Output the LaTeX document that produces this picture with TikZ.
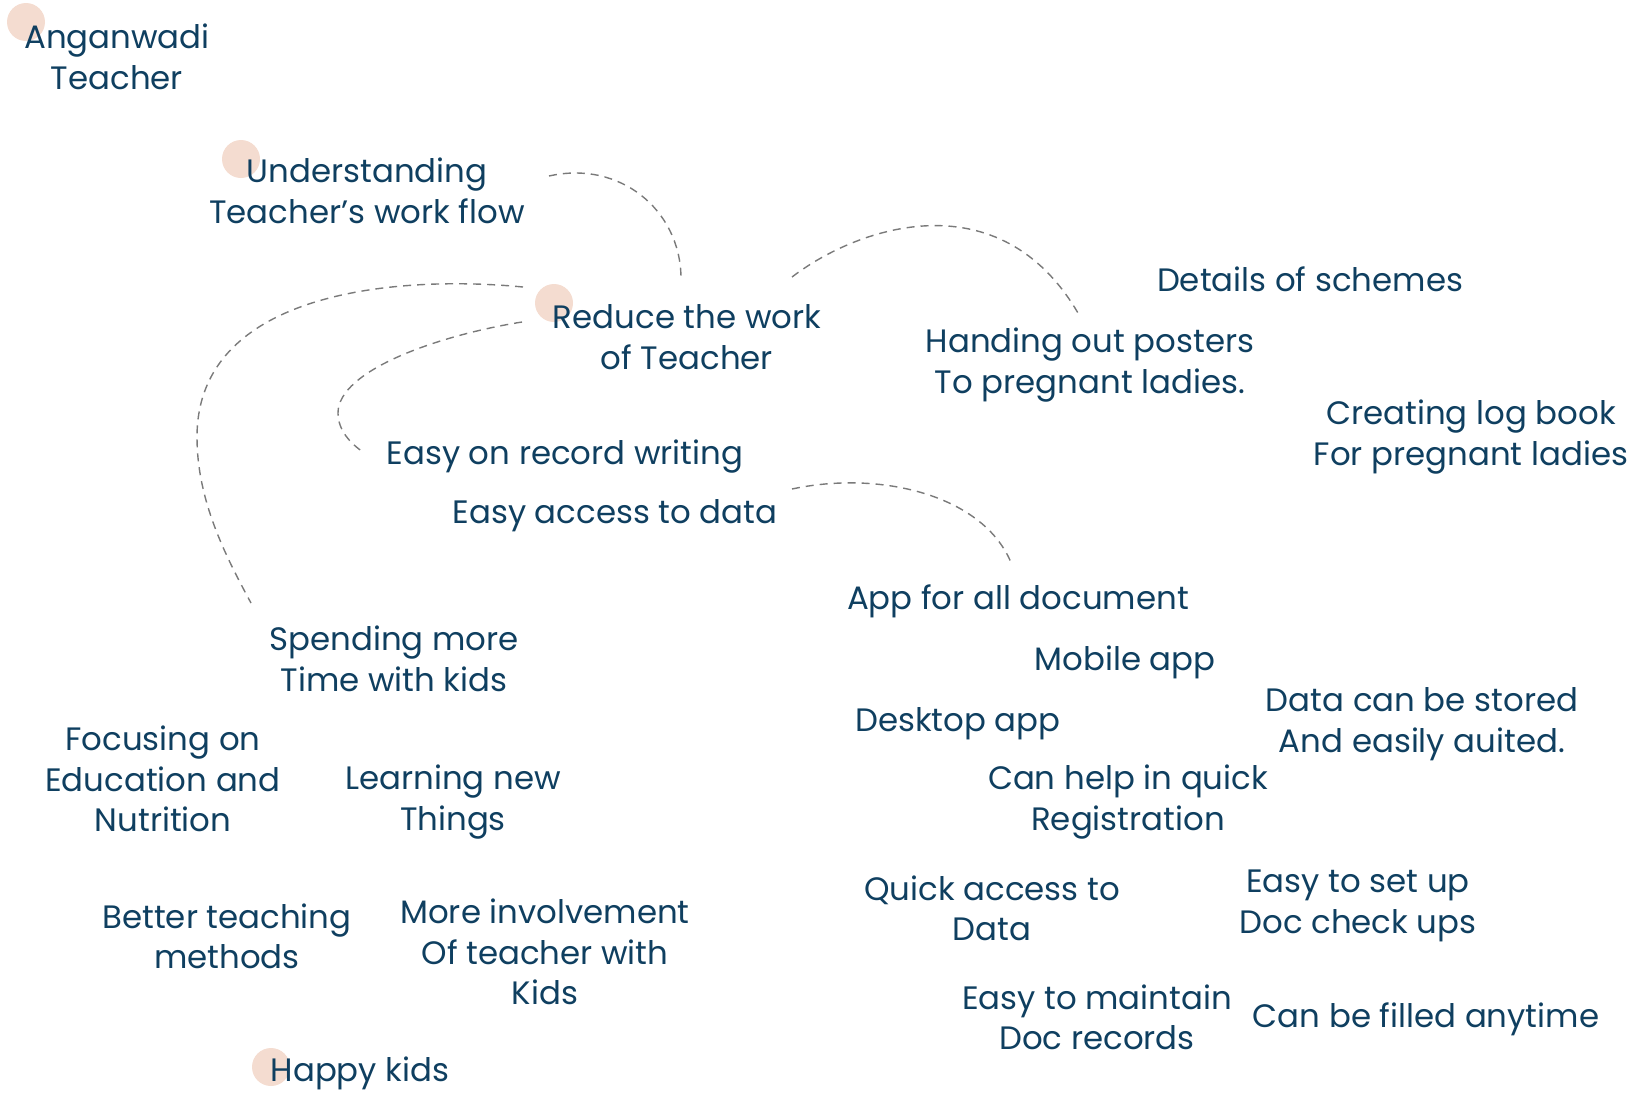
\documentclass[tikz,border=0pt]{standalone}
\usepackage{fontspec}
\setmainfont{Poppins}
\usepackage{tikz}
\definecolor{inkblue}{HTML}{0F3F60}
\definecolor{peach}{HTML}{F4DCD0}
\definecolor{linegray}{HTML}{7A7A7A}
\tikzset{
	idea/.style={align=center, text=inkblue, font=\fontsize{16.2}{20.2}\selectfont, inner sep=0pt},
	dot/.style={fill=peach, draw=none},
	link/.style={draw=linegray, line width=0.7pt, dash pattern=on 4pt off 3pt}
}

\begin{document}
\begin{tikzpicture}[x=0.5pt, y=-0.5pt]
	\useasboundingbox (0,0) rectangle (1638,1094);
	% dots
	\filldraw[dot] (26,22) circle (19);
	\filldraw[dot] (241,159) circle (19);
	\filldraw[dot] (554,303) circle (19);
	\filldraw[dot] (271,1067) circle (19);
	% ideas
	\node[idea] (teacher) at (117,57) {Anganwadi\\Teacher};
	\node[idea] (flow) at (367,191) {Understanding\\Teacher’s work flow};
	\node[idea] (reduce) at (687,337) {Reduce the work\\of Teacher};
	\node[idea] (posters) at (1090,365) {Handing out posters\\To pregnant ladies.};
	\node[idea] (schemes) at (1310,279) {Details of schemes};
	\node[idea] (logbook) at (1471,437) {Creating log book\\For pregnant ladies};
	\node[idea] (record) at (565,457) {Easy on record writing};
	\node[idea] (access) at (615,516) {Easy access to data};
	\node[idea] (app) at (1018,601) {App for all document};
	\node[idea] (mobile) at (1125,662) {Mobile app};
	\node[idea] (desktop) at (958,724) {Desktop app};
	\node[idea] (stored) at (1422,724) {Data can be stored\\And easily auited.};
	\node[idea] (register) at (1128,802) {Can help in quick\\Registration};
	\node[idea] (quick) at (992,908) {Quick access to\\Data};
	\node[idea] (checkups) at (1358,906) {Easy to set up\\Doc check ups};
	\node[idea] (maintain) at (1097,1017) {Easy to maintain\\Doc records};
	\node[idea] (anytime) at (1426,1019) {Can be filled anytime};
	\node[idea] (kidstime) at (394,659) {Spending more\\Time with kids};
	\node[idea] (focus) at (163,779) {Focusing on\\Education and\\Nutrition};
	\node[idea] (learning) at (453,802) {Learning new\\Things};
	\node[idea] (methods) at (227,936) {Better teaching\\methods};
	\node[idea] (involve) at (545,952) {More involvement\\Of teacher with\\Kids};
	\node[idea] (happy) at (360,1073) {Happy kids};
	% curve ends
	\coordinate (a1) at (549,176);
	\coordinate (a2) at (681,277);
	\coordinate (b1) at (792,277);
	\coordinate (b2) at (1078,313);
	\coordinate (c1) at (523,287);
	\coordinate (c2) at (197,437);
	\coordinate (c3) at (251,603);
	\coordinate (d1) at (522,322);
	\coordinate (d2) at (338,413);
	\coordinate (d3) at (363,452);
	\coordinate (e1) at (792,489);
	\coordinate (e2) at (1012,565);
	% dashed curves
	\draw[link] (a1) .. controls (620,160) and (680,210) .. (a2);
	\draw[link] (b1) .. controls (860,225) and (1000,180) .. (b2);
	\draw[link] (c1) .. controls (400,275) and (197,290) .. (c2) .. controls (197,500) and (225,555) .. (c3);
	\draw[link] (d1) .. controls (440,335) and (338,370) .. (d2) .. controls (338,430) and (350,443) .. (d3);
	\draw[link] (e1) .. controls (880,470) and (985,495) .. (e2);
\end{tikzpicture}
\end{document}
